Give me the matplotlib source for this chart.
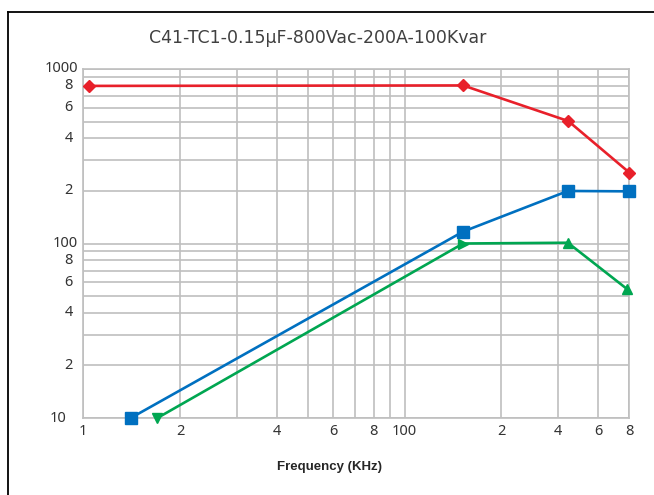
import matplotlib
matplotlib.use("Agg")
import matplotlib.pyplot as plt
from matplotlib.lines import Line2D
import matplotlib.transforms as mtransforms

plt.rcParams['font.family'] = ['Noto Sans', 'DejaVu Sans']

title = "C41-TC1-0.15\u00b5F-800Vac-200A-100Kvar"
xlabel = "Frequency (KHz)"

x_red = [10.4, 152, 323, 500]
y_red = [800, 805, 503, 255]
x_blue = [14.05, 152, 322, 500]
y_blue = [10, 117, 200, 199]
x_green = [17.0, 152, 322, 491]
y_green = [10, 100, 101, 55]

x_ticks = [10, 20, 30, 40, 50, 60, 70, 80, 90, 100, 200, 300, 400, 500]
x_ticklabels = ["1", "2", "", "4", "", "6", "", "8", "", "100", "2", "4", "6", "8"]
y_ticks = [10, 20, 30, 40, 50, 60, 70, 80, 90, 100, 200, 300, 400, 500, 600, 700, 800, 900, 1000]
y_ticklabels = ["10", "2", "", "4", "", "6", "", "8", "", "100", "2", "", "4", "", "6", "", "8", "", "1000"]

W, H = 654, 495
fig = plt.figure(figsize=(W / 100, H / 100), dpi=100)
ax = fig.add_axes([83.3 / W, 1 - 418 / H, (629.3 - 83.3) / W, (418 - 69) / H])
ax.set_xscale('log')
ax.set_yscale('log')
ax.set_xlim(10, 500)
ax.set_ylim(10, 1000)

grid_c = '#BFBFBF'
tick_fs = 10.5
ax.set_xticks(x_ticks)
ax.set_xticks([], minor=True)
ax.set_xticklabels(x_ticklabels, fontsize=tick_fs, color='#333333')
ax.set_yticks(y_ticks)
ax.set_yticks([], minor=True)
ax.set_yticklabels([])
ax.tick_params(axis='both', which='both', length=0)
ax.tick_params(axis='x', pad=4)
ax.grid(True, which='major', color=grid_c, linewidth=1.2)
for s in ax.spines.values():
    s.set_color(grid_c)
    s.set_linewidth(1.2)

# y tick labels (manual for alignment like reference)
trans = mtransforms.blended_transform_factory(ax.transAxes, ax.transData)
for v, lab in zip(y_ticks, y_ticklabels):
    if not lab:
        continue
    if lab in ("100", "1000"):
        dx = -5.3
    elif lab == "10":
        dx = -17
    else:
        dx = -10.5
    off = mtransforms.offset_copy(trans, fig=fig, x=dx, y=0, units='dots')
    ax.text(0, v, lab, transform=off, ha='right', va='center', fontsize=tick_fs, color='#333333')

red = '#E8202A'
blue = '#0070C0'
green = '#00A651'
ax.plot(x_red, y_red, color=red, lw=1.9, marker='D', ms=6, clip_on=False, zorder=3)
ax.plot(x_blue, y_blue, color=blue, lw=1.9, marker='s', ms=9, clip_on=False, zorder=3)
ax.plot(x_green, y_green, color=green, lw=1.9, clip_on=False, zorder=3)
for xv, yv, m in zip(x_green, y_green, ['v', '>', '^', '^']):
    ax.plot([xv], [yv], color=green, marker=m, ms=7, ls='none', clip_on=False, zorder=4)

fig.text(317.5 / W, 1 - 38 / H, title, ha='center', va='center', fontsize=12.5,
         color='#404040', family=['DejaVu Sans'])
fig.text(329.5 / W, 1 - 467 / H, xlabel, ha='center', va='center', fontsize=9.5,
         fontweight='bold', color='#262626', family=['Liberation Sans', 'DejaVu Sans'])

fig.add_artist(Line2D([8 / W, 1.0], [1 - 12 / H, 1 - 12 / H], color='black', lw=1.3, transform=fig.transFigure))
fig.add_artist(Line2D([8 / W, 8 / W], [1 - 12 / H, 0], color='black', lw=1.3, transform=fig.transFigure))

fig.savefig('out.png', dpi=100)
